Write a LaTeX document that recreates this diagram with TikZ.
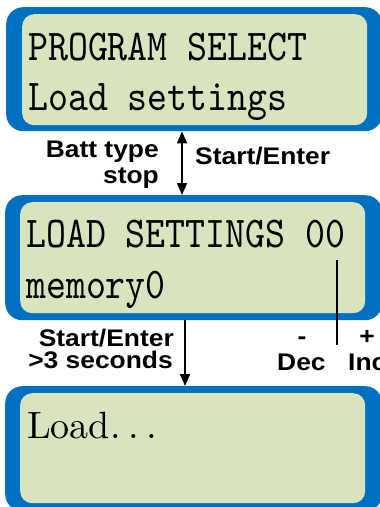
\documentclass[tikz,border=0pt]{standalone}
\usepackage{fontspec}
\newfontfamily\labfont{Liberation Sans}[FakeStretch=1.1]
\usetikzlibrary{arrows.meta}
\definecolor{lcdblue}{HTML}{0070C0}
\definecolor{lcdgreen}{HTML}{D7E4BD}
\tikzset{
  outerbox/.style={fill=lcdblue, rounded corners=17pt, anchor=north west, inner sep=0pt, draw=none},
  innerbox/.style={fill=lcdgreen, rounded corners=12pt, anchor=north west, inner sep=0pt, draw=none},
  lcdtext/.style={anchor=base west, inner sep=0pt},
  lab/.style={inner sep=0pt, font=\labfont\bfseries\fontsize{24}{24}\selectfont},
  arr/.style={line width=1.6pt, -{Triangle[width=10pt,length=12pt]}},
  dblarr/.style={line width=1.6pt, {Triangle[width=10pt,length=12pt]}-{Triangle[width=10pt,length=12pt]}},
}
\newcommand{\lcdtt}[1]{\scalebox{3.8}[4.4]{\ttfamily\fontsize{10}{10}\selectfont #1}}
\newcommand{\lcdrm}[1]{\scalebox{3.8}{\rmfamily\fontsize{10}{10}\selectfont #1}}
\begin{document}
\begin{tikzpicture}[x=1pt,y=-1pt]
\useasboundingbox (0,0) rectangle (380,507);
\clip (0,0) rectangle (380,507);
% boxes
\node[outerbox, minimum width=376pt, minimum height=124pt] (o1) at (6,7) {};
\node[innerbox, minimum width=345pt, minimum height=111pt] (i1) at (22,14) {};
\node[outerbox, minimum width=377pt, minimum height=125pt] (o2) at (5,195) {};
\node[innerbox, minimum width=345pt, minimum height=111pt] (i2) at (20,202) {};
\node[outerbox, minimum width=377pt, minimum height=125pt] (o3) at (5,386) {};
\node[innerbox, minimum width=345pt, minimum height=110pt] (i3) at (20,393) {};
% LCD texts
\node[lcdtext] (t1) at (28,60) {\lcdtt{PROGRAM SELECT}};
\node[lcdtext] (t2) at (28,110) {\lcdtt{Load settings}};
\node[lcdtext] (t3) at (26,247) {\lcdtt{LOAD SETTINGS 00}};
\node[lcdtext] (t4) at (26,298) {\lcdtt{memory0}};
\node[lcdtext] (t5) at (27,438) {\lcdrm{Load.\kern.2em.\kern.2em.}};
% arrows
\coordinate (c1) at (182,0);
\coordinate (c2) at (185,0);
\draw[dblarr] (o1.south -| c1) -- (o2.north -| c1);
\draw[arr] (o2.south -| c2) -- (o3.north -| c2);
% dec/inc line
\coordinate (l1) at (337,260);
\coordinate (l2) at (337,345);
\draw[line width=1.2pt] (l1) -- (l2);
% labels
\node[lab, anchor=base east] (bt) at (159,157) {Batt type};
\node[lab, anchor=base east] (st) at (159,183) {stop};
\node[lab, anchor=base west] (se1) at (195,164) {Start/Enter};
\node[lab, anchor=base east] (se2) at (174,346) {Start/Enter};
\node[lab, anchor=base east] (s3) at (173,368) {>3 seconds};
\node[lab, anchor=base] (mn) at (302,344) {-};
\node[lab, anchor=base west] (dec) at (277,370) {Dec};
\node[lab, anchor=base] (pl) at (367,344) {+};
\node[lab, anchor=base west] (inc) at (348,370) {Inc};
\end{tikzpicture}
\end{document}
